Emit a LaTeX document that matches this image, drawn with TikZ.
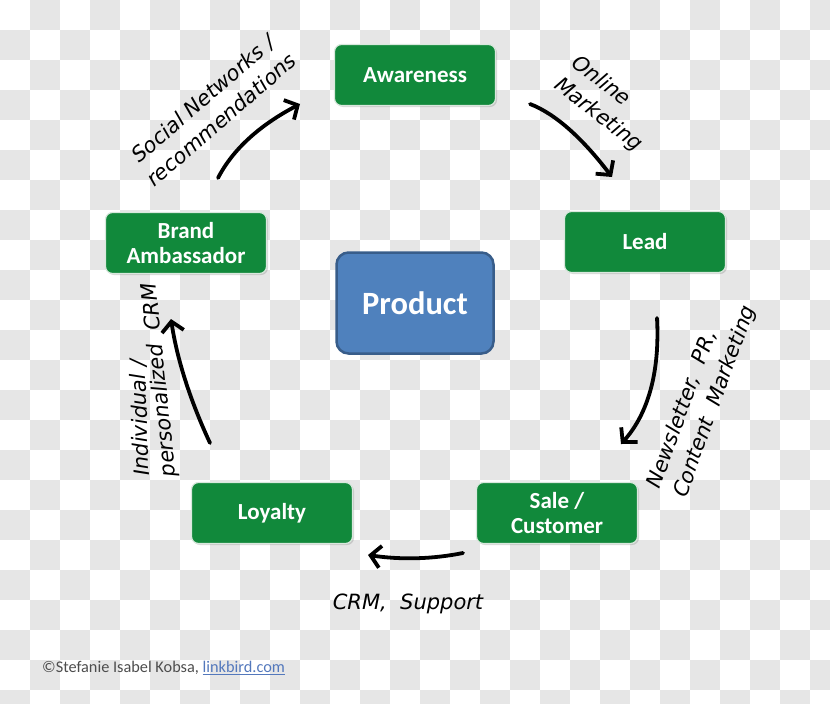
\documentclass[tikz,border=0pt]{standalone}
\usepackage{fontspec}
\setmainfont{Carlito}
\newfontfamily\handfont{DejaVu Sans}
\usetikzlibrary{arrows.meta,shadows}
\definecolor{boxgreen}{HTML}{11893B}
\definecolor{boxrim}{HTML}{D9E8DD}
\definecolor{prodblue}{HTML}{4F81BD}
\definecolor{prodedge}{HTML}{385D8A}
\definecolor{checker}{HTML}{E6E6E6}
\definecolor{credgray}{HTML}{4D4D4D}
\definecolor{linkblue}{HTML}{5378BC}
\begin{document}
\begin{tikzpicture}[x=1pt,y=-1pt,
  stage/.style={draw=boxrim, line width=1.2pt, fill=boxgreen, rounded corners=7pt,
    minimum width=161pt, minimum height=61pt, text=white, inner sep=2pt,
    font=\fontsize{23}{25.5}\selectfont\bfseries, align=center,
    drop shadow={shadow xshift=1.5pt, shadow yshift=-1.5pt, opacity=0.3}},
  hub/.style={draw=prodedge, line width=2.5pt, fill=prodblue, rounded corners=12pt,
    minimum width=157pt, minimum height=101pt, text=white,
    font=\fontsize{32.5}{36}\selectfont\bfseries},
  lbl/.style={font=\handfont\itshape\fontsize{21}{28}\selectfont, text=black, inner sep=0pt},
  flow/.style={line width=3.8pt, line cap=round, -{Straight Barb[length=10pt,width=22pt]}}]
\useasboundingbox (0,0) rectangle (830,704);
% transparency checkerboard
\foreach \i in {0,...,27}{\foreach \j in {0,...,23}{%
  \pgfmathtruncatemacro\cpar{mod(\i+\j,2)}%
  \ifnum\cpar=1 \fill[checker] (\i*30,\j*30) rectangle ++(30,30);\fi}}
% stages
\node[stage] (aware) at (415,75) {Awareness};
\node[stage] (lead) at (645,242) {Lead};
\node[stage] (sale) at (557,513) {Sale /\\Customer};
\node[stage] (loyal) at (272,513) {Loyalty};
\node[stage] (brand) at (186,243) {Brand\\Ambassador};
\node[hub] (product) at (415,303) {Product};
% arrow end points
\coordinate (s1) at (218,178); \coordinate (e1) at (300,104);
\coordinate (s2) at (530,104); \coordinate (e2) at (612,177);
\coordinate (s3) at (657,318); \coordinate (e3) at (621,444);
\coordinate (s4) at (463,553); \coordinate (e4) at (368,555);
\coordinate (s5) at (210,443); \coordinate (e5) at (171,319);
\draw[flow] (s1) .. controls (233,149) and (260,125) .. (e1);
\draw[flow] (s2) .. controls (556,114) and (583,139) .. (e2);
\draw[flow] (s3) .. controls (660,372) and (648,414) .. (e3);
\draw[flow] (s4) .. controls (433,559) and (402,560) .. (e4);
\draw[flow] (s5) .. controls (190,400) and (177,359) .. (e5);
% labels
\node[lbl, rotate=41, align=center] (lsocial) at (212,109) {Social Networks /\\recommendations};
\node[lbl, rotate=-38, align=left] (lonline) at (607,104) {Online\\Marketing};
\node[lbl, rotate=70, align=left] (lnews) at (702,397) {Newsletter,\ \ PR,\\Content\ \ Marketing};
\node[lbl, rotate=92] (lindiv) at (140,418) {Individual /};
\node[lbl, rotate=96] (lpers) at (160,380) {personalized\ \ CRM};
\node[lbl] (lsupport) at (408,604) {CRM,\ \ Support};
% credit
\node[anchor=west, inner sep=0pt, text=credgray, font=\fontsize{16.3}{19}\selectfont] (credit) at (42,668)
  {©Stefanie Isabel Kobsa, \textcolor{linkblue}{\underline{linkbird.com}}};
\end{tikzpicture}
\end{document}
